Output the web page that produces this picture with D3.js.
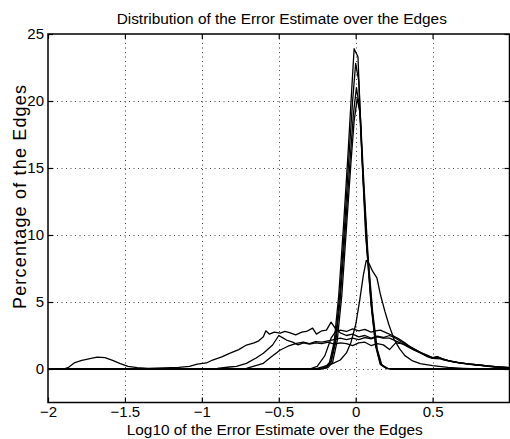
<!DOCTYPE html>
<html>
<head>
<meta charset="utf-8">
<script src="https://cdn.jsdelivr.net/npm/d3@7"></script>
<style>
	body { margin: 0; background: #fff; }
	svg text { font-family: "Liberation Sans", Arial, Helvetica, sans-serif; fill: #000; }
</style>
</head>
<body>
<div id="chart"></div>
<script>
// tick values of both axes
var xTicks = [-2, -1.5, -1, -0.5, 0, 0.5, 1];
var yTicks = [0, 5, 10, 15, 20, 25];

// broad curves [log10 error, percentage]
var broadA = [[-2,0],[-1.9,0],[-1.87,0.1],[-1.83,0.45],[-1.78,0.65],[-1.72,0.8],[-1.68,0.88],[-1.63,0.85],[-1.58,0.65],
	[-1.53,0.4],[-1.48,0.2],[-1.42,0.1],[-1.35,0.05],[-1.25,0.08],[-1.15,0.12],[-1.08,0.2],[-1.03,0.37],[-0.97,0.45],
	[-0.93,0.67],[-0.87,0.9],[-0.82,1.17],[-0.76,1.45],[-0.71,1.79],[-0.66,1.95],[-0.63,2.1],[-0.6,2.4],[-0.584,2.85],
	[-0.56,2.6],[-0.53,2.75],[-0.49,2.68],[-0.46,2.8],[-0.43,2.72],[-0.39,2.55],[-0.35,2.75],[-0.32,2.8],[-0.28,3.05],
	[-0.255,2.6],[-0.22,2.85],[-0.19,2.9],[-0.16,3.5],[-0.13,3.0],[-0.1,2.7],[-0.06,2.5],[-0.02,2.6],[0.02,2.4],
	[0.06,2.5],[0.1,2.3],[0.14,2.45],[0.18,2.35],[0.22,2.5],[0.26,2.3],[0.3,2.0],[0.34,1.75],[0.38,1.5],[0.42,1.25],
	[0.46,1.05],[0.5,0.85],[0.53,0.92],[0.57,0.72],[0.63,0.55],[0.68,0.45],[0.74,0.37],[0.8,0.3],[0.87,0.22],[0.93,0.15],[1,0.1]];
var broadB = [[-2,0],[-1.0,0],[-0.9,0.05],[-0.82,0.15],[-0.775,0.2],[-0.71,0.42],[-0.65,0.8],[-0.6,1.17],[-0.54,1.79],
	[-0.5,2.5],[-0.47,2.3],[-0.45,2.16],[-0.41,2.0],[-0.375,1.8],[-0.34,1.95],[-0.3,1.85],[-0.26,1.95],[-0.22,1.9],
	[-0.18,2.0],[-0.14,1.85],[-0.1,1.95],[-0.06,1.9],[-0.02,1.75],[0.02,1.95],[0.06,2.0],[0.1,1.75],[0.14,1.9],
	[0.18,1.8],[0.22,1.45],[0.26,1.95],[0.3,1.9],[0.34,1.7],[0.38,1.45],[0.42,1.25],[0.46,1.0],[0.5,0.85],[0.54,0.85],
	[0.6,0.65],[0.66,0.5],[0.72,0.4],[0.8,0.3],[0.88,0.2],[0.95,0.13],[1,0.1]];
var broadC = [[-2,0],[-0.8,0],[-0.71,0.05],[-0.6,0.42],[-0.55,0.9],[-0.49,1.42],[-0.44,1.7],[-0.385,1.92],[-0.34,2.0],
	[-0.3,1.9],[-0.26,2.05],[-0.22,2.0],[-0.18,2.1],[-0.14,2.2],[-0.1,2.3],[-0.06,2.2],[-0.02,2.3],[0.02,2.2],
	[0.06,2.35],[0.1,2.25],[0.14,2.4],[0.18,2.3],[0.22,2.3],[0.26,2.1],[0.3,1.9],[0.34,1.65],[0.38,1.4],[0.42,1.2],
	[0.46,0.95],[0.5,0.8],[0.55,0.75],[0.6,0.6],[0.67,0.45],[0.74,0.35],[0.82,0.25],[0.9,0.15],[1,0.08]];
var broadD = [[-2,0],[-0.3,0],[-0.25,0.2],[-0.2,1.0],[-0.16,2.3],[-0.13,2.8],[-0.1,2.9],[-0.06,2.8],[-0.02,3.0],
	[0.02,2.85],[0.06,2.95],[0.1,2.75],[0.13,2.85],[0.16,2.9],[0.2,2.7],[0.24,2.5],[0.28,2.25],[0.32,1.95],[0.36,1.6],
	[0.4,1.35],[0.44,1.1],[0.48,0.9],[0.5,0.8],[0.53,0.92],[0.57,0.7],[0.63,0.55],[0.68,0.45],[0.74,0.37],[0.8,0.3],
	[0.87,0.22],[0.93,0.15],[1,0.1]];

// medium peak
var peakM = [[-2,0],[-0.3,0],[-0.25,0.05],[-0.21,0.17],[-0.15,0.4],[-0.1,0.67],[-0.06,1.2],[-0.03,2.0],[0.0,3.3],
	[0.026,5.1],[0.05,7.0],[0.069,8.1],[0.09,7.8],[0.11,7.3],[0.138,6.8],[0.16,5.6],[0.19,4.3],[0.216,3.3],[0.25,2.2],
	[0.286,1.5],[0.32,1.0],[0.37,0.6],[0.42,0.4],[0.5,0.25],[0.6,0.12],[0.7,0.05],[0.8,0],[1,0]];

// narrow peaks
var peakN1 = [[-2,0],[-0.25,0],[-0.2,0.1],[-0.17,0.5],[-0.14,2],[-0.11,5.5],[-0.08,10.5],[-0.05,16],[-0.03,20],
	[-0.01,23.9],[0.015,23.3],[0.04,16],[0.065,10],[0.1,5],[0.13,1.8],[0.16,0.4],[0.2,0.05],[0.25,0],[1,0]];
var peakN2 = [[-2,0],[-0.24,0],[-0.19,0.1],[-0.16,0.6],[-0.13,2.3],[-0.1,6],[-0.07,11],[-0.04,16.5],[-0.02,20],
	[0.0,22.8],[0.02,21.5],[0.045,15],[0.07,9.5],[0.1,4.8],[0.13,1.7],[0.16,0.35],[0.2,0.05],[0.25,0],[1,0]];
var peakN3 = [[-2,0],[-0.24,0],[-0.19,0.1],[-0.16,0.5],[-0.13,2],[-0.1,5.2],[-0.07,10],[-0.04,15],[-0.015,19],
	[0.005,21],[0.025,19.5],[0.05,14],[0.075,9],[0.105,4.5],[0.135,1.6],[0.165,0.3],[0.2,0.05],[0.25,0],[1,0]];
var peakN4 = [[-2,0],[-0.23,0],[-0.18,0.1],[-0.15,0.5],[-0.12,2.1],[-0.09,5.5],[-0.06,10.5],[-0.03,15.5],[-0.01,18.5],
	[0.01,20.2],[0.03,19],[0.055,13.5],[0.08,8.5],[0.11,4.3],[0.14,1.5],[0.17,0.3],[0.21,0.05],[0.26,0],[1,0]];

var allSeries = [broadA, broadB, broadC, broadD, peakM, peakN1, peakN2, peakN3, peakN4];

var width = 510, height = 439;
var margin = {left: 48, right: 0.5, top: 34, bottom: 36.5};

var svg = d3.select("#chart").append("svg")
	.attr("width", width)
	.attr("height", height);

var x = d3.scaleLinear()
	.domain([-2, 1])
	.range([margin.left, width - margin.right]);
var y = d3.scaleLinear()
	.domain([-2.5, 25])
	.range([height - margin.bottom, margin.top]);

var x0 = x.range()[0], x1 = x.range()[1];
var y0 = y.range()[0], y1 = y.range()[1];

// dotted grid
var grid = svg.append("g").attr("class", "grid")
	.attr("stroke", "#444")
	.attr("stroke-width", 1)
	.attr("stroke-dasharray", "1,3.5");
grid.selectAll("line.gx")
	.data(xTicks.filter(d => d > -2 && d < 1))
	.enter().append("line")
		.attr("class", "gx")
		.attr("x1", d => Math.round(x(d)) + 0.5).attr("x2", d => Math.round(x(d)) + 0.5)
		.attr("y1", y1).attr("y2", y0);
grid.selectAll("line.gy")
	.data(yTicks.filter(d => d < 25))
	.enter().append("line")
		.attr("class", "gy")
		.attr("x1", x0).attr("x2", x1)
		.attr("y1", d => Math.round(y(d)) + 0.5).attr("y2", d => Math.round(y(d)) + 0.5);

// curves
var line = d3.line()
	.x(d => x(d[0]))
	.y(d => y(d[1]))
	.curve(d3.curveLinear);

svg.append("g").attr("class", "curves")
	.selectAll("path")
	.data(allSeries)
	.enter().append("path")
		.attr("d", line)
		.attr("fill", "none")
		.attr("stroke", "#000")
		.attr("stroke-width", 1.3)
		.attr("stroke-linejoin", "round");

// axes, ticks inside the box (matlab style)
// the label of 1 falls outside the window, only its tick is kept
var tickLen = 5;
var fmtX = d => d >= 1 ? "" : d3.format("")(d).replace("-", "\u2212");
var axB = svg.append("g").attr("transform", "translate(0," + y0 + ")")
	.call(d3.axisBottom(x).tickValues(xTicks).tickSizeInner(-tickLen).tickSizeOuter(0).tickPadding(4)
		.tickFormat(fmtX));
var axT = svg.append("g").attr("transform", "translate(0," + y1 + ")")
	.call(d3.axisTop(x).tickValues(xTicks).tickSizeInner(-tickLen).tickSizeOuter(0).tickFormat(""));
var axL = svg.append("g").attr("transform", "translate(" + x0 + ",0)")
	.call(d3.axisLeft(y).tickValues(yTicks).tickSizeInner(-tickLen).tickSizeOuter(0).tickPadding(4));
var axR = svg.append("g").attr("transform", "translate(" + x1 + ",0)")
	.call(d3.axisRight(y).tickValues(yTicks).tickSizeInner(-tickLen).tickSizeOuter(0).tickFormat(""));

[axB, axT, axL, axR].forEach(function(a) {
	a.select(".domain").remove();
	a.selectAll(".tick line").attr("stroke", "#000").attr("stroke-width", 1.2);
	a.selectAll("text").attr("font-size", "15px").attr("fill", "#000");
});

// box
svg.append("rect")
	.attr("x", x0).attr("y", y1)
	.attr("width", x1 - x0).attr("height", y0 - y1)
	.attr("fill", "none")
	.attr("stroke", "#000")
	.attr("stroke-width", 1.5);

// titles
svg.append("text")
	.attr("x", (x0 + x1) / 2 + 3)
	.attr("y", 24)
	.attr("text-anchor", "middle")
	.attr("font-size", "15.4px")
	.text("Distribution of the Error Estimate over the Edges");

svg.append("text")
	.attr("x", (x0 + x1) / 2 - 4)
	.attr("y", 435)
	.attr("text-anchor", "middle")
	.attr("font-size", "15.4px")
	.text("Log10 of the Error Estimate over the Edges");

svg.append("text")
	.attr("transform", "translate(26,197) rotate(-90)")
	.attr("text-anchor", "middle")
	.attr("font-size", "18px")
	.attr("textLength", 224)
	.attr("lengthAdjust", "spacing")
	.text("Percentage of the Edges");
</script>
</body>
</html>
